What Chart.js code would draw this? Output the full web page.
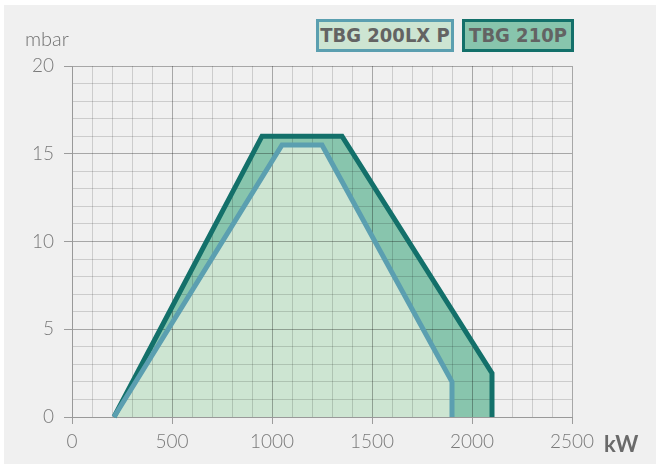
<!DOCTYPE html>
<html>
<head>
<meta charset="utf-8">
<script src="https://cdn.jsdelivr.net/npm/chart.js@4"></script>
<style>
  html, body { margin: 0; padding: 0; background: #ffffff; }
  #wrap { position: absolute; left: 0; top: 0; width: 656px; height: 464px; }
  #bg { position: absolute; left: 4px; top: 5px; right: 0; bottom: 0; background: #f0f0f0; }
  canvas { position: absolute; left: 0; top: 0; }
  .lbl { position: absolute; font-family: "Lato", "DejaVu Sans", sans-serif; color: #707070; }
  .box { position: absolute; top: 19px; height: 27px; box-sizing: content-box; border: 3px solid;
         font-family: "DejaVu Sans Condensed", "DejaVu Sans", sans-serif; font-weight: bold;
         font-size: 20px; line-height: 27px; color: #636363; text-align: center; }
</style>
</head>
<body>
<div id="wrap">
  <div id="bg"></div>
  <canvas id="myChart" width="656" height="464"></canvas>
  <div class="lbl" style="left:25px; top:26px; font-size:20px; font-weight:300;">mbar</div>
  <div class="lbl" style="left:604px; top:430px; font-size:22px; font-weight:bold; color:#6a6a6a;">kW</div>
  <div class="box" style="left:316px; width:132px; background:#cde5d2; border-color:#5b9fb0;">TBG 200LX P</div>
  <div class="box" style="left:462px; width:106px; background:#88c5ad; border-color:#13706a;">TBG 210P</div>
</div>
<script>
// TBG 200LX P (inner)
const innerKw = [210, 1050, 1250, 1900, 1900];
const innerMbar = [0, 15.5, 15.5, 2, 0];
// TBG 210P (outer)
const outerKw = [210, 950, 1350, 2100, 2100];
const outerMbar = [0, 16, 16, 2.5, 0];

const xMax = 2500, yMax = 20;

const toPoints = (xs, ys) => xs.map((x, i) => ({ x: x, y: ys[i] }));

const ctx = document.getElementById("myChart").getContext("2d");

new Chart(ctx, {
  type: 'line',
  data: {
    datasets: [{
      label: 'TBG 200LX P',
      data: toPoints(innerKw, innerMbar),
      borderColor: '#5b9fb0',
      backgroundColor: '#cde5d2',
      borderWidth: 5,
      fill: 'origin',
      pointRadius: 0,
      tension: 0,
      borderJoinStyle: 'miter',
      clip: 10
    }, {
      label: 'TBG 210P',
      data: toPoints(outerKw, outerMbar),
      borderColor: '#13706a',
      backgroundColor: '#88c5ad',
      borderWidth: 5,
      fill: 'origin',
      pointRadius: 0,
      tension: 0,
      borderJoinStyle: 'miter',
      clip: 10
    }]
  },
  options: {
    responsive: false,
    animation: false,
    layout: { padding: { top: 66, right: 84, left: 0, bottom: 0 } },
    plugins: {
      legend: { display: false },
      tooltip: { enabled: false },
      filler: { drawTime: 'beforeDraw' }
    },
    scales: {
      x: {
        type: 'linear',
        min: 0,
        max: xMax,
        afterFit: s => { s.height = 47; },
        border: { color: '#999999', width: 1 },
        grid: {
          color: c => c.tick && c.tick.value % 500 === 0 ? 'rgba(0,0,0,0.3)' : 'rgba(0,0,0,0.15)',
          tickColor: c => c.tick && c.tick.value % 500 === 0 ? 'rgba(0,0,0,0.35)' : 'rgba(0,0,0,0)',
          tickLength: 7,
          lineWidth: 1
        },
        ticks: {
          stepSize: 100,
          autoSkip: false,
          maxRotation: 0,
          padding: 6,
          color: '#7a7a7a',
          font: { family: 'Lato', size: 19, weight: '300' },
          callback: v => v % 500 === 0 ? v : ''
        }
      },
      y: {
        min: 0,
        max: yMax,
        afterFit: s => { s.width = 72; },
        border: { color: '#999999', width: 1 },
        grid: {
          color: c => c.tick && c.tick.value % 5 === 0 ? 'rgba(0,0,0,0.3)' : 'rgba(0,0,0,0.15)',
          tickColor: c => c.tick && c.tick.value % 5 === 0 ? 'rgba(0,0,0,0.35)' : 'rgba(0,0,0,0)',
          tickLength: 8,
          lineWidth: 1
        },
        ticks: {
          stepSize: 1,
          autoSkip: false,
          padding: 10,
          color: '#7a7a7a',
          font: { family: 'Lato', size: 19, weight: '300' },
          callback: v => v % 5 === 0 ? v : ''
        }
      }
    }
  }
});
</script>
</body>
</html>
